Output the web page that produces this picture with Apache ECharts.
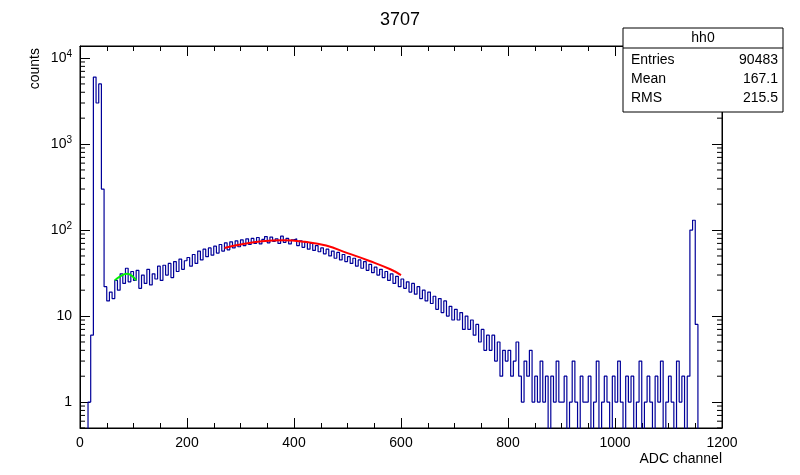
<!DOCTYPE html>
<html><head><meta charset="utf-8">
<script src="https://cdn.jsdelivr.net/npm/echarts@6/dist/echarts.min.js"></script>
<style>html,body{margin:0;padding:0;background:#fff}#c{width:800px;height:475px}</style>
</head><body><div id="c"></div>
<script>
const binWidth = 5;
const counts = [
0,0,0,1,6,6000,3000,5000,300,22,
15,19,16,26,20,31,24,36,25,33,
26,34,21,30,24,35,23,31,27,38,
26,39,30,41,28,43,33,46,35,44,
48,38,52,41,57,45,60,49,62,51,
65,54,68,57,71,59,73,62,75,64,
77,66,79,68,80,70,82,69,78,84,
71,83,74,79,70,85,72,80,69,77,
79,66,75,63,72,60,70,58,66,56,
62,53,60,50,57,47,55,45,52,43,
49,41,47,38,45,36,43,34,40,32,
37,30,35,28,33,26,31,24,29,22,
27,21,25,19,24,18,22,16,20,15,
19,14,17,12,16,11,15,10,13,9,
12,9,11,7,10,7,9,6,8,5,
7,4,6,4,6,3,5,2,4,3,
4,2,3,5,2,1,3,2,4,1,
2,1,3,1,2,0,2,1,3,1,
1,2,0,1,3,1,0,2,1,1,
2,0,1,3,0,1,2,1,0,2,
1,3,1,0,2,1,2,0,1,3,
0,1,2,1,0,2,1,3,0,1,
2,1,0,3,1,2,0,2,100,130,
8,0,0,0,0,0,0,0,0,0];
const redFit = [[270,62],[300,68],[340,74],[380,76],[420,73],[460,66],[500,54],[540,44],[580,35],[600,30]];
const greenFit = [[65,26],[75,29],[88,31],[98,29],[105,26]];
const statsLabels = ['Entries','Mean','RMS'];
const statsValues = ['90483','167.1','215.5'];

const histData = counts.map((v,i)=>[i*binWidth, v>0?v:0.05]);
histData.push([counts.length*binWidth, counts[counts.length-1]>0?counts[counts.length-1]:0.05]);

const F = 'Liberation Sans';
const sup = {fontFamily:F,fontSize:10,color:'#000',verticalAlign:'top',padding:[0,0,8,0]};
function ylab(v){
  const e = Math.round(Math.log10(v));
  if (Math.abs(v - Math.pow(10,e))>1e-6*v) return '';
  if (e===0) return '1';
  if (e===1) return '10';
  return '{b|10}{s|'+e+'}';
}
const chart = echarts.init(document.getElementById('c'));
const axisCommon = {
  axisLine:{show:true,onZero:false,lineStyle:{color:'#000',width:1}},
  axisTick:{inside:true,length:10,lineStyle:{color:'#000'}},
  minorTick:{show:true,splitNumber:4,length:5,lineStyle:{color:'#000'}},
  splitLine:{show:false}
};
const YMIN=0.5, YMAX=13800;
chart.setOption({
  animation:false,
  title:{text:'3707',left:'center',top:6,textStyle:{fontFamily:F,fontSize:18,fontWeight:'normal',color:'#000'}},
  grid:{left:80,right:78,top:46,bottom:47,show:true,borderColor:'#000',borderWidth:1},
  xAxis:[
    Object.assign({type:'value',min:0,max:1200,interval:200,position:'bottom',
      axisLabel:{fontFamily:F,fontSize:14,color:'#000',margin:8,formatter:v=>String(v)},
      name:'ADC channel',nameLocation:'end',nameGap:0,
      nameTextStyle:{fontFamily:F,fontSize:14,color:'#000',align:'right',verticalAlign:'top',padding:[24,0,0,0]}},axisCommon),
    Object.assign({type:'value',min:0,max:1200,interval:200,position:'top',axisLabel:{show:false}},axisCommon)
  ],
  yAxis:[
    Object.assign({type:'log',logBase:10,min:YMIN,max:YMAX,position:'left',
      axisLabel:{fontFamily:F,fontSize:14,color:'#000',margin:8,formatter:ylab,rich:{b:{fontFamily:F,fontSize:14,color:'#000'},s:sup}}},
      axisCommon,{minorTick:{show:false}}),
    Object.assign({type:'log',logBase:10,min:YMIN,max:YMAX,position:'right',axisLabel:{show:false}},axisCommon,{minorTick:{show:false}})
  ],
  series:[
    {type:'line',step:'end',data:histData,symbol:'none',clip:true,lineStyle:{color:'#000099',width:1.2}},
    {type:'line',data:redFit,smooth:true,symbol:'none',clip:true,lineStyle:{color:'#ff0000',width:2}},
    {type:'line',data:greenFit,smooth:true,symbol:'none',clip:true,lineStyle:{color:'#00ee00',width:2}}
  ]
});
const g = [
  {type:'rect',shape:{x:623,y:28,width:160,height:84},style:{fill:'#fff',stroke:'#000',lineWidth:1},z:100},
  {type:'line',shape:{x1:623,y1:48,x2:783,y2:48},style:{stroke:'#000'},z:101},
  {type:'text',x:703,y:38,style:{text:'hh0',font:'14px "Liberation Sans"',fill:'#000',align:'center',verticalAlign:'middle'},z:101},
  {type:'text',x:35,y:48,rotation:Math.PI/2,style:{text:'counts',font:'14px "Liberation Sans"',fill:'#000',align:'right',verticalAlign:'middle'}}
];
statsLabels.forEach((l,i)=>{
  g.push({type:'text',x:631,y:60+i*19,style:{text:l,font:'14px "Liberation Sans"',fill:'#000',verticalAlign:'middle'},z:101});
  g.push({type:'text',x:778,y:60+i*19,style:{text:statsValues[i],font:'14px "Liberation Sans"',fill:'#000',align:'right',verticalAlign:'middle'},z:101});
});
const xl = chart.convertToPixel({xAxisIndex:0},0), xr = chart.convertToPixel({xAxisIndex:0},1200);
for (let e=-1;e<=4;e++){
  for (let m=2;m<=9;m++){
    const v=m*Math.pow(10,e);
    if (v<YMIN||v>YMAX) continue;
    const y=chart.convertToPixel({yAxisIndex:0},v);
    g.push({type:'line',shape:{x1:xl,y1:y,x2:xl+5,y2:y},style:{stroke:'#000'}});
    g.push({type:'line',shape:{x1:xr,y1:y,x2:xr-5,y2:y},style:{stroke:'#000'}});
  }
}
chart.setOption({graphic:g});
</script></body></html>
